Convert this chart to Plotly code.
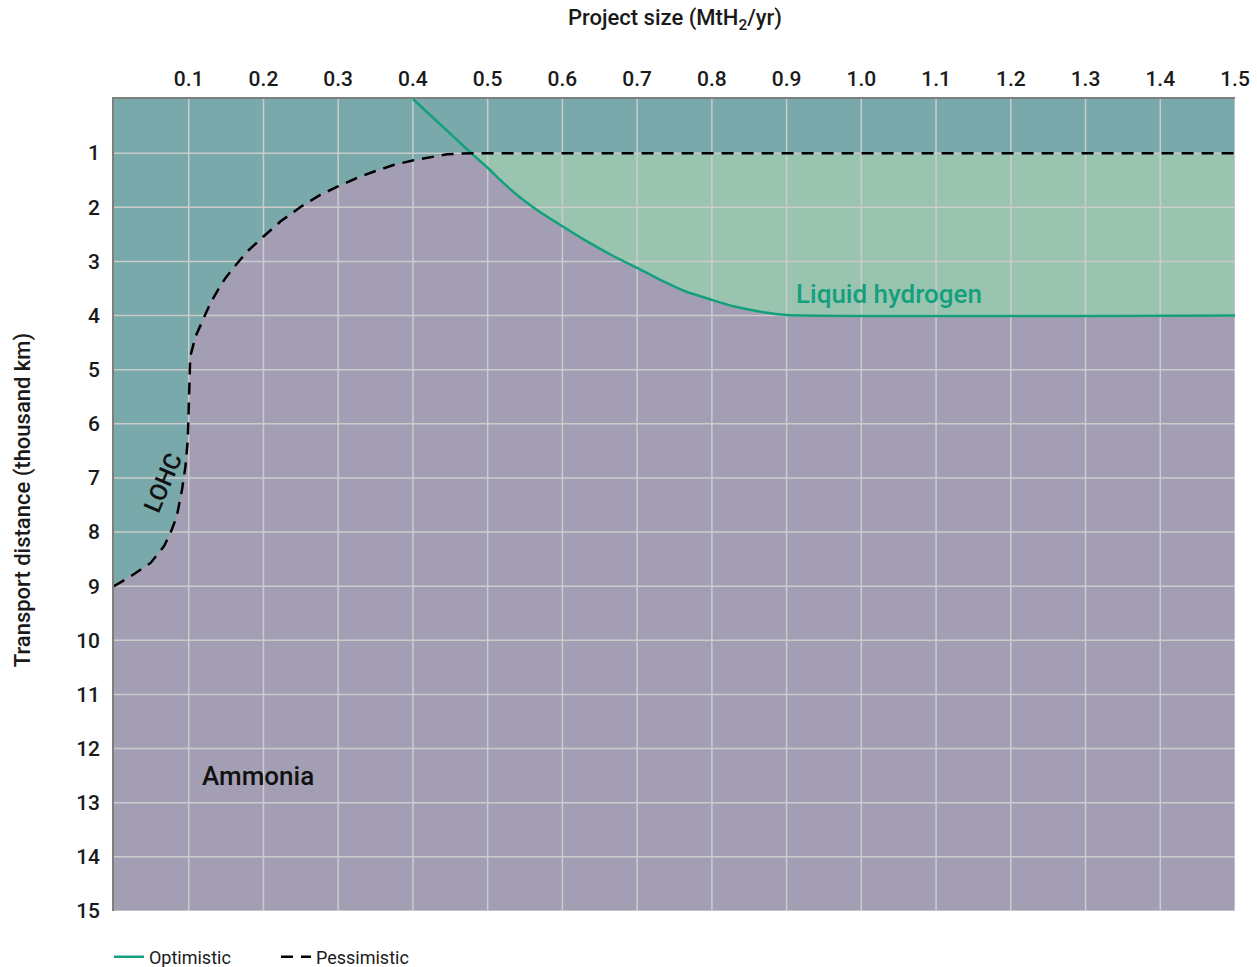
import plotly.graph_objects as go

# ---------------- data ----------------
x_ticks = [0.1, 0.2, 0.3, 0.4, 0.5, 0.6, 0.7, 0.8, 0.9, 1.0, 1.1, 1.2, 1.3, 1.4, 1.5]
x_tick_labels = ["0.1", "0.2", "0.3", "0.4", "0.5", "0.6", "0.7", "0.8", "0.9", "1.0",
                 "1.1", "1.2", "1.3", "1.4", "1.5"]
y_ticks = list(range(1, 16))

# Pessimistic boundary (dashed): LOHC / Ammonia frontier, then LH2 upper limit
pess_x = [0.0, 0.022, 0.049, 0.067, 0.0755, 0.084, 0.091, 0.0956, 0.0987, 0.1,
          0.1007, 0.102, 0.109, 0.121, 0.129, 0.139, 0.149, 0.161, 0.178, 0.2, 0.223,
          0.25, 0.276, 0.299, 0.325, 0.348, 0.374, 0.401, 0.42, 0.446, 0.478, 1.5]
pess_y = [9.0, 8.82, 8.57, 8.26, 8.02, 7.71, 7.22, 6.79, 6.30, 5.56,
          5.07, 4.76, 4.39, 4.02, 3.77, 3.53, 3.31, 3.10, 2.82, 2.54, 2.26,
          1.99, 1.77, 1.62, 1.46, 1.34, 1.22, 1.13, 1.08, 1.02, 1.0, 1.0]

# Optimistic boundary (solid)
opt_x = [0.4, 0.478, 0.5, 0.521, 0.5435, 0.566, 0.6, 0.633, 0.668, 0.7, 0.731,
         0.766, 0.8, 0.829, 0.865, 0.9, 1.5]
opt_y = [0.0, 1.0, 1.27, 1.55, 1.82, 2.05, 2.35, 2.63, 2.90, 3.12, 3.34,
         3.56, 3.71, 3.83, 3.93, 3.99, 4.0]

x_max = 1.5
y_max = 15
crossing_x = 0.478

C_TEAL_BG = "#79a9aa"
C_PURPLE = "#a39eb3"
C_LH2 = "#99c5b0"
C_LINE = "#14a07c"
C_GRID = "#cccccc"

# ------------- derived polygons -------------
pess_left = [(x, y) for x, y in zip(pess_x, pess_y) if x <= crossing_x]
opt_right = [(x, y) for x, y in zip(opt_x, opt_y) if x >= crossing_x]

amm_x = [p[0] for p in pess_left] + [p[0] for p in opt_right] + [x_max, 0.0]
amm_y = [p[1] for p in pess_left] + [p[1] for p in opt_right] + [y_max, y_max]

lh2_x = [crossing_x, x_max] + [p[0] for p in reversed(opt_right)]
lh2_y = [1.0, 1.0] + [p[1] for p in reversed(opt_right)]

grid_x, grid_y = [], []
for xv in x_ticks:
    grid_x += [xv, xv, None]
    grid_y += [0, y_max, None]
for yv in y_ticks:
    grid_x += [0, x_max, None]
    grid_y += [yv, yv, None]

fig = go.Figure()

fig.add_trace(go.Scatter(x=amm_x, y=amm_y, fill="toself", fillcolor=C_PURPLE,
                         line=dict(width=0), mode="lines", showlegend=False,
                         hoverinfo="skip"))
fig.add_trace(go.Scatter(x=lh2_x, y=lh2_y, fill="toself", fillcolor=C_LH2,
                         line=dict(width=0), mode="lines", showlegend=False,
                         hoverinfo="skip"))
fig.add_trace(go.Scatter(x=grid_x, y=grid_y, mode="lines",
                         line=dict(color=C_GRID, width=1.5), showlegend=False,
                         hoverinfo="skip"))
fig.add_trace(go.Scatter(x=opt_x, y=opt_y, mode="lines", name="Optimistic",
                         line=dict(color=C_LINE, width=2.5, shape="spline", smoothing=0.5)))
fig.add_trace(go.Scatter(x=pess_x, y=pess_y, mode="lines", name="Pessimistic",
                         line=dict(color="black", width=2.5, dash="12px,8px")))

FONT = "Roboto"
TXT = "#1a1a1a"

fig.update_layout(
    width=1257, height=967,
    margin=dict(l=114, r=22, t=99, b=56, autoexpand=False),
    plot_bgcolor=C_TEAL_BG,
    paper_bgcolor="white",
    font=dict(family=FONT, color=TXT),
    showlegend=True,
    legend=dict(orientation="h", x=-0.0045, xanchor="left", y=-0.0567, yanchor="middle",
                font=dict(size=18, color=TXT), entrywidth=122,
                entrywidthmode="pixels", bgcolor="rgba(0,0,0,0)"),
    xaxis=dict(range=[0, x_max], side="top", tickvals=x_ticks, ticktext=x_tick_labels,
               showgrid=False, zeroline=False, showline=True, linecolor="#7f7f7f",
               linewidth=1.5, ticks="", ticklabelstandoff=3,
               tickfont=dict(size=21, family=FONT, color=TXT, weight=500)),
    yaxis=dict(range=[y_max, 0], tickvals=y_ticks, showgrid=False, zeroline=False,
               showline=True, linecolor="#7f7f7f", linewidth=1.5, ticks="",
               ticklabelstandoff=8,
               tickfont=dict(size=21, family=FONT, color=TXT, weight=500)),
)

fig.add_annotation(xref="paper", yref="paper", x=0.5, y=1.0985, xanchor="center",
                   yanchor="middle", showarrow=False,
                   text="Project size (MtH<sub>2</sub>/yr)",
                   font=dict(size=22, family=FONT, color=TXT, weight=500))
fig.add_annotation(xref="paper", yref="paper", x=-0.0811, y=0.506, xanchor="center",
                   yanchor="middle", showarrow=False, textangle=-90,
                   text="Transport distance (thousand km)",
                   font=dict(size=22, family=FONT, color=TXT, weight=500))

fig.add_annotation(x=1.037, y=3.6, text="Liquid hydrogen", showarrow=False,
                   font=dict(size=26, color=C_LINE, family=FONT, weight=500))
fig.add_annotation(x=0.1925, y=12.5, text="Ammonia", showarrow=False,
                   font=dict(size=26, color="#111111", family=FONT, weight=500))
fig.add_annotation(x=0.066, y=7.1, text="LOHC", showarrow=False, textangle=-67,
                   font=dict(size=24, color="#111111", family=FONT, weight=500))

fig.write_html(
    "out.html",
    config={"displayModeBar": False},
    post_script="document.body.style.margin='0';document.body.style.overflow='hidden';",
)
